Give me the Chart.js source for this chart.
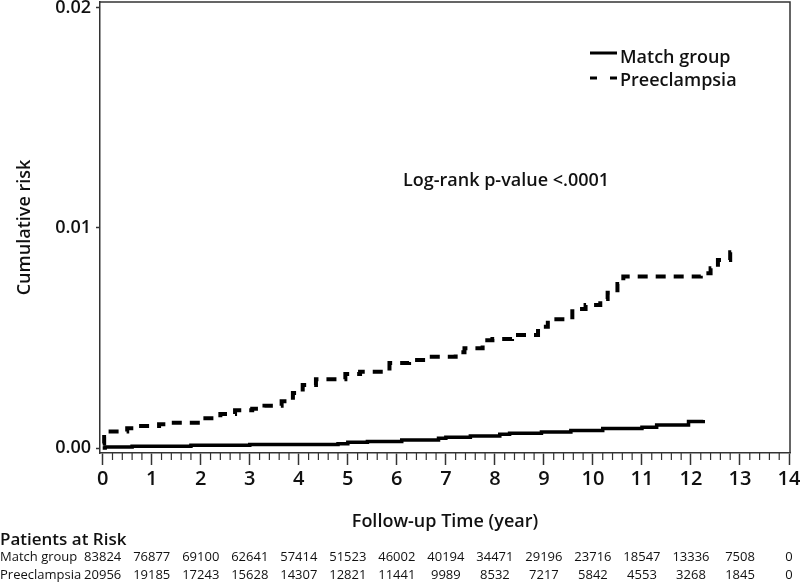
<!DOCTYPE html>
<html>
<head>
<meta charset="utf-8">
<script src="https://cdn.jsdelivr.net/npm/chart.js@4/dist/chart.umd.min.js"></script>
<style>
  html, body { margin: 0; padding: 0; background: #fff; }
</style>
</head>
<body>
<canvas id="km" width="800" height="585"></canvas>
<script>
// axis ticks
const years = [0, 1, 2, 3, 4, 5, 6, 7, 8, 9, 10, 11, 12, 13, 14];
const riskTicks = [0, 0.01, 0.02];

// Match group (solid) - step points
const matchTime = [0, 0.05, 0.6, 1.8, 3.0, 4.8, 5.0, 5.4, 6.1, 6.85, 7.0, 7.5, 8.1, 8.3, 8.95, 9.55, 10.2, 11.0, 11.3, 11.95, 12.25];
const matchRisk = [0, 0.00005, 0.00008, 0.00013, 0.00016, 0.00019, 0.00026, 0.0003, 0.00036, 0.00044, 0.00049, 0.00054, 0.00062, 0.00067, 0.00073, 0.00079, 0.00089, 0.00094, 0.00104, 0.0012, 0.00127];

// Preeclampsia (dashed)
const preTime = [0, 0.03, 0.1, 0.5, 0.7, 1.15, 1.4, 2.05, 2.4, 2.7, 3.05, 3.3, 3.65, 3.88, 4.08, 4.35, 4.95, 5.25, 5.85, 6.25, 6.6, 7.2, 7.38, 7.75, 7.95, 8.35, 8.88, 9.08, 9.58, 9.85, 10.15, 10.3, 10.5, 10.62, 12.2, 12.4, 12.55, 12.8, 12.85];
const preRisk = [0.0002, 0.0005, 0.00075, 0.0009, 0.001, 0.00108, 0.00115, 0.00135, 0.00155, 0.00172, 0.00178, 0.00192, 0.00212, 0.0025, 0.00286, 0.00312, 0.00336, 0.00347, 0.00386, 0.004, 0.00415, 0.00435, 0.00453, 0.0049, 0.00495, 0.00514, 0.00551, 0.00585, 0.00632, 0.0065, 0.00677, 0.00706, 0.00745, 0.00779, 0.00794, 0.00817, 0.00855, 0.0089, 0.0089];

// patients at risk table
const groupNames = ['Match group', 'Preeclampsia'];
const matchAtRisk = [83824, 76877, 69100, 62641, 57414, 51523, 46002, 40194, 34471, 29196, 23716, 18547, 13336, 7508, 0];
const preAtRisk = [20956, 19185, 17243, 15628, 14307, 12821, 11441, 9989, 8532, 7217, 5842, 4553, 3268, 1845, 0];

const FONT = '"Open Sans", "Noto Sans", sans-serif';
const INK = '#111';

function toPoints(xs, ys) {
    return xs.map((x, i) => ({ x: x, y: ys[i] }));
}

// frame, minor ticks, legend, annotation and the at-risk table
const extras = {
    id: 'extras',
    afterDraw(chart) {
        const { ctx, chartArea: a, scales } = chart;
        const xs = scales.x;
        ctx.save();

        // top + right of the box
        ctx.strokeStyle = '#333';
        ctx.lineWidth = 1.5;
        ctx.beginPath();
        ctx.moveTo(a.left, a.top);
        ctx.lineTo(a.right, a.top);
        ctx.lineTo(a.right, a.bottom);
        ctx.stroke();

        // minor ticks every 0.2 year
        ctx.lineWidth = 1.2;
        ctx.beginPath();
        for (let i = 0; i < 70; i++) {
            if (i % 5 === 0) continue;
            const px = xs.getPixelForValue(i * 0.2);
            ctx.moveTo(px, a.bottom);
            ctx.lineTo(px, a.bottom + 7);
        }
        ctx.stroke();

        // legend
        ctx.strokeStyle = '#000';
        ctx.lineWidth = 3;
        ctx.beginPath();
        ctx.moveTo(590, 53);
        ctx.lineTo(617, 53);
        ctx.stroke();
        ctx.setLineDash([7, 13]);
        ctx.beginPath();
        ctx.moveTo(590, 78);
        ctx.lineTo(617, 78);
        ctx.stroke();
        ctx.setLineDash([]);

        ctx.fillStyle = INK;
        ctx.textBaseline = 'middle';
        ctx.textAlign = 'left';
        ctx.font = '600 18px ' + FONT;
        ctx.fillText(groupNames[0], 620, 58);
        ctx.fillText(groupNames[1], 620, 81);

        ctx.fillText('Log-rank p-value <.0001', 403, 181);

        // patients at risk
        ctx.font = '600 17px ' + FONT;
        ctx.fillText('Patients at Risk', 0, 540);
        ctx.font = '13px ' + FONT;
        const rows = [matchAtRisk, preAtRisk];
        const rowY = [557, 575];
        rows.forEach((row, r) => {
            ctx.textAlign = 'left';
            ctx.fillText(groupNames[r], 0, rowY[r]);
            ctx.textAlign = 'center';
            row.forEach((n, i) => {
                ctx.fillText(String(n), xs.getPixelForValue(years[i]), rowY[r]);
            });
        });
        ctx.restore();
    }
};

new Chart(document.getElementById('km'), {
    type: 'line',
    data: {
        datasets: [
            {
                label: 'Match group',
                data: toPoints(matchTime, matchRisk),
                stepped: 'before',
                borderColor: '#000',
                borderWidth: 3.5,
                pointRadius: 0,
                fill: false
            },
            {
                label: 'Preeclampsia',
                data: toPoints(preTime, preRisk),
                stepped: 'before',
                borderColor: '#000',
                borderWidth: 4,
                borderDash: [10, 8],
                pointRadius: 0,
                fill: false
            }
        ]
    },
    options: {
        responsive: false,
        animation: false,
        devicePixelRatio: 1,
        layout: { padding: { left: 0, right: 10, top: 2, bottom: 0 } },
        plugins: {
            legend: { display: false },
            tooltip: { enabled: false }
        },
        scales: {
            x: {
                type: 'linear',
                min: -0.055,
                max: 14.02,
                afterBuildTicks: s => { s.ticks = years.map(v => ({ value: v })); },
                afterFit: s => { s.height = 132; s.paddingLeft = 0; s.paddingRight = 0; },
                ticks: {
                    color: INK,
                    padding: 2,
                    maxRotation: 0,
                    font: { family: FONT, size: 20, weight: '600' },
                    callback: v => String(v)
                },
                grid: { drawOnChartArea: false, tickLength: 12, tickColor: '#333', tickWidth: 1.5 },
                border: { color: '#333', width: 1.5 },
                title: {
                    display: true,
                    text: 'Follow-up Time (year)',
                    color: INK,
                    font: { family: FONT, size: 18, weight: '600' },
                    padding: { top: 0, bottom: 52 }
                }
            },
            y: {
                min: -0.000227,
                max: 0.02027,
                afterBuildTicks: s => { s.ticks = riskTicks.map(v => ({ value: v })); },
                afterFit: s => { s.width = 100; s.paddingTop = 0; s.paddingBottom = 0; },
                ticks: {
                    color: INK,
                    padding: 5,
                    font: { family: FONT, size: 18, weight: '600' },
                    callback: v => v.toFixed(2)
                },
                grid: { drawOnChartArea: false, tickLength: 4, tickColor: '#333', tickWidth: 1.5 },
                border: { color: '#333', width: 1.5 },
                title: {
                    display: true,
                    text: 'Cumulative risk',
                    color: INK,
                    font: { family: FONT, size: 18, weight: '600' },
                    padding: { top: 14, bottom: 0 }
                }
            }
        }
    },
    plugins: [extras]
});
</script>
</body>
</html>
